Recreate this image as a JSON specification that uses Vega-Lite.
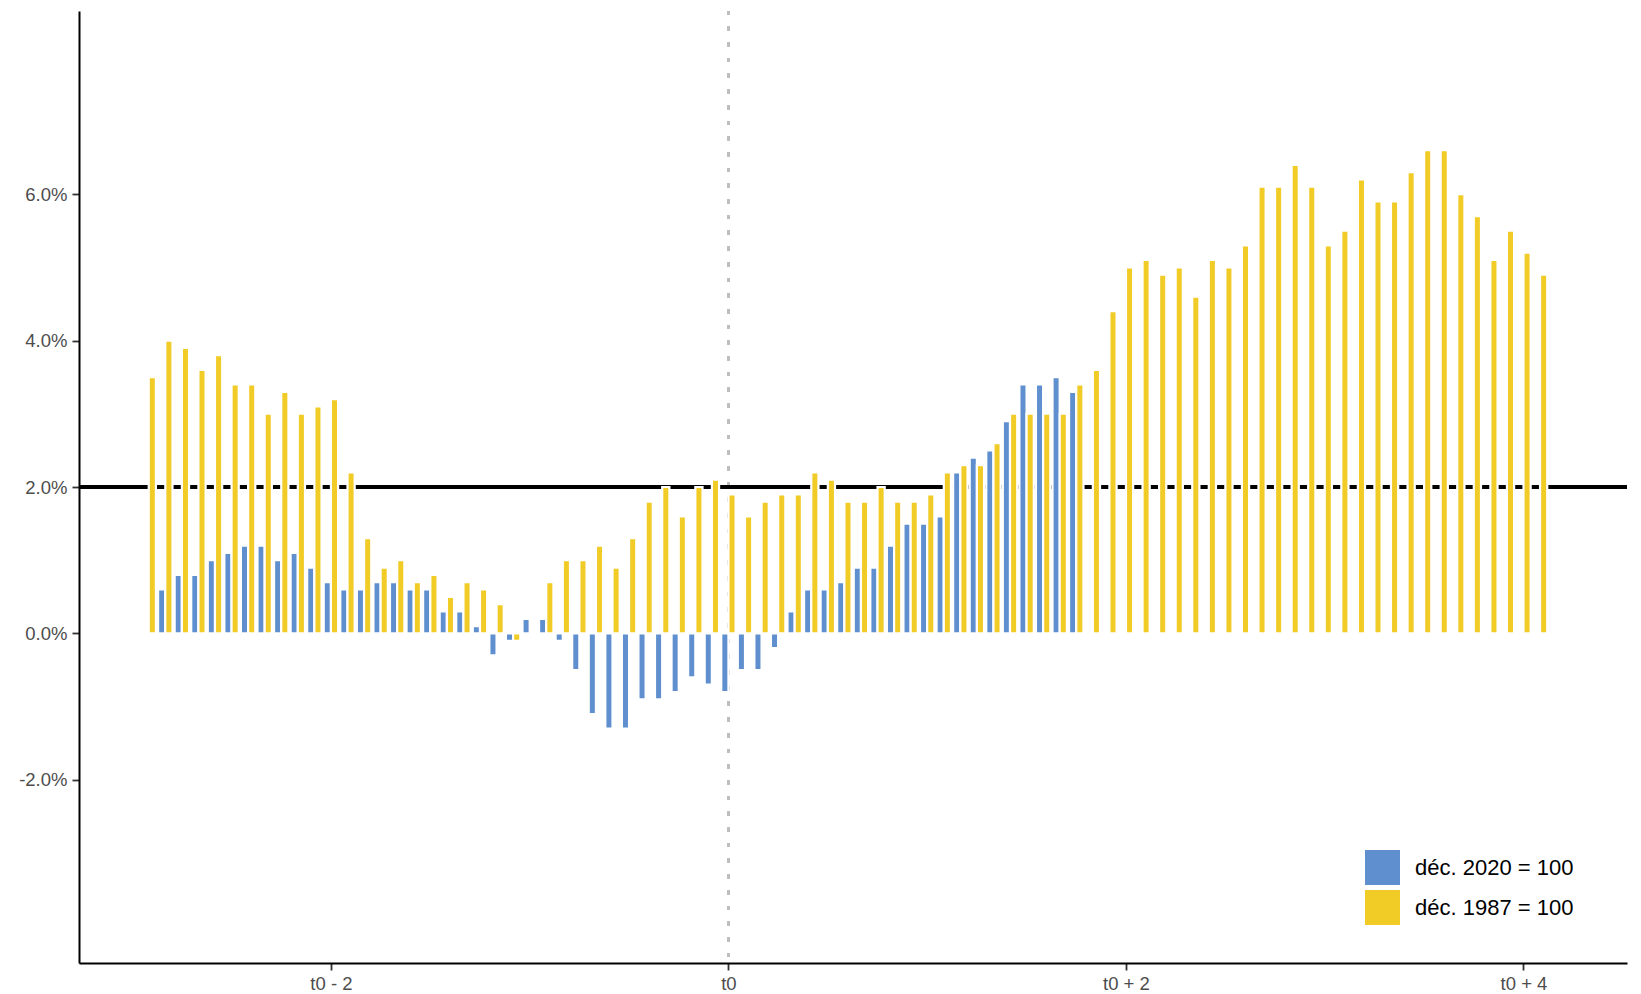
{
  "$schema": "https://vega.github.io/schema/vega-lite/v6.json",
  "autosize": {"type": "none"},
  "padding": {"left": 79, "top": 11, "right": 14, "bottom": 31},
  "width": 1548,
  "height": 952,
  "background": "white",
  "config": {
    "view": {"stroke": null},
    "font": "Liberation Sans",
    "axis": {
      "domainColor": "black",
      "domainWidth": 2,
      "tickColor": "#333333",
      "tickWidth": 1.8,
      "tickSize": 7,
      "labelColor": "#4D4D4D",
      "labelFont": "Liberation Sans",
      "labelFontSize": 18.5,
      "grid": false,
      "title": null
    }
  },
  "datasets": {
    "bars": [
      {"m": -35, "s": "1987", "v": 3.5},
      {"m": -34, "s": "2020", "v": 0.6}, {"m": -34, "s": "1987", "v": 4.0},
      {"m": -33, "s": "2020", "v": 0.8}, {"m": -33, "s": "1987", "v": 3.9},
      {"m": -32, "s": "2020", "v": 0.8}, {"m": -32, "s": "1987", "v": 3.6},
      {"m": -31, "s": "2020", "v": 1.0}, {"m": -31, "s": "1987", "v": 3.8},
      {"m": -30, "s": "2020", "v": 1.1}, {"m": -30, "s": "1987", "v": 3.4},
      {"m": -29, "s": "2020", "v": 1.2}, {"m": -29, "s": "1987", "v": 3.4},
      {"m": -28, "s": "2020", "v": 1.2}, {"m": -28, "s": "1987", "v": 3.0},
      {"m": -27, "s": "2020", "v": 1.0}, {"m": -27, "s": "1987", "v": 3.3},
      {"m": -26, "s": "2020", "v": 1.1}, {"m": -26, "s": "1987", "v": 3.0},
      {"m": -25, "s": "2020", "v": 0.9}, {"m": -25, "s": "1987", "v": 3.1},
      {"m": -24, "s": "2020", "v": 0.7}, {"m": -24, "s": "1987", "v": 3.2},
      {"m": -23, "s": "2020", "v": 0.6}, {"m": -23, "s": "1987", "v": 2.2},
      {"m": -22, "s": "2020", "v": 0.6}, {"m": -22, "s": "1987", "v": 1.3},
      {"m": -21, "s": "2020", "v": 0.7}, {"m": -21, "s": "1987", "v": 0.9},
      {"m": -20, "s": "2020", "v": 0.7}, {"m": -20, "s": "1987", "v": 1.0},
      {"m": -19, "s": "2020", "v": 0.6}, {"m": -19, "s": "1987", "v": 0.7},
      {"m": -18, "s": "2020", "v": 0.6}, {"m": -18, "s": "1987", "v": 0.8},
      {"m": -17, "s": "2020", "v": 0.3}, {"m": -17, "s": "1987", "v": 0.5},
      {"m": -16, "s": "2020", "v": 0.3}, {"m": -16, "s": "1987", "v": 0.7},
      {"m": -15, "s": "2020", "v": 0.1}, {"m": -15, "s": "1987", "v": 0.6},
      {"m": -14, "s": "2020", "v": -0.3}, {"m": -14, "s": "1987", "v": 0.4},
      {"m": -13, "s": "2020", "v": -0.1}, {"m": -13, "s": "1987", "v": -0.1},
      {"m": -12, "s": "2020", "v": 0.2},
      {"m": -11, "s": "2020", "v": 0.2}, {"m": -11, "s": "1987", "v": 0.7},
      {"m": -10, "s": "2020", "v": -0.1}, {"m": -10, "s": "1987", "v": 1.0},
      {"m": -9, "s": "2020", "v": -0.5}, {"m": -9, "s": "1987", "v": 1.0},
      {"m": -8, "s": "2020", "v": -1.1}, {"m": -8, "s": "1987", "v": 1.2},
      {"m": -7, "s": "2020", "v": -1.3}, {"m": -7, "s": "1987", "v": 0.9},
      {"m": -6, "s": "2020", "v": -1.3}, {"m": -6, "s": "1987", "v": 1.3},
      {"m": -5, "s": "2020", "v": -0.9}, {"m": -5, "s": "1987", "v": 1.8},
      {"m": -4, "s": "2020", "v": -0.9}, {"m": -4, "s": "1987", "v": 2.0},
      {"m": -3, "s": "2020", "v": -0.8}, {"m": -3, "s": "1987", "v": 1.6},
      {"m": -2, "s": "2020", "v": -0.6}, {"m": -2, "s": "1987", "v": 2.0},
      {"m": -1, "s": "2020", "v": -0.7}, {"m": -1, "s": "1987", "v": 2.1},
      {"m": 0, "s": "2020", "v": -0.8}, {"m": 0, "s": "1987", "v": 1.9},
      {"m": 1, "s": "2020", "v": -0.5}, {"m": 1, "s": "1987", "v": 1.6},
      {"m": 2, "s": "2020", "v": -0.5}, {"m": 2, "s": "1987", "v": 1.8},
      {"m": 3, "s": "2020", "v": -0.2}, {"m": 3, "s": "1987", "v": 1.9},
      {"m": 4, "s": "2020", "v": 0.3}, {"m": 4, "s": "1987", "v": 1.9},
      {"m": 5, "s": "2020", "v": 0.6}, {"m": 5, "s": "1987", "v": 2.2},
      {"m": 6, "s": "2020", "v": 0.6}, {"m": 6, "s": "1987", "v": 2.1},
      {"m": 7, "s": "2020", "v": 0.7}, {"m": 7, "s": "1987", "v": 1.8},
      {"m": 8, "s": "2020", "v": 0.9}, {"m": 8, "s": "1987", "v": 1.8},
      {"m": 9, "s": "2020", "v": 0.9}, {"m": 9, "s": "1987", "v": 2.0},
      {"m": 10, "s": "2020", "v": 1.2}, {"m": 10, "s": "1987", "v": 1.8},
      {"m": 11, "s": "2020", "v": 1.5}, {"m": 11, "s": "1987", "v": 1.8},
      {"m": 12, "s": "2020", "v": 1.5}, {"m": 12, "s": "1987", "v": 1.9},
      {"m": 13, "s": "2020", "v": 1.6}, {"m": 13, "s": "1987", "v": 2.2},
      {"m": 14, "s": "2020", "v": 2.2}, {"m": 14, "s": "1987", "v": 2.3},
      {"m": 15, "s": "2020", "v": 2.4}, {"m": 15, "s": "1987", "v": 2.3},
      {"m": 16, "s": "2020", "v": 2.5}, {"m": 16, "s": "1987", "v": 2.6},
      {"m": 17, "s": "2020", "v": 2.9}, {"m": 17, "s": "1987", "v": 3.0},
      {"m": 18, "s": "2020", "v": 3.4}, {"m": 18, "s": "1987", "v": 3.0},
      {"m": 19, "s": "2020", "v": 3.4}, {"m": 19, "s": "1987", "v": 3.0},
      {"m": 20, "s": "2020", "v": 3.5}, {"m": 20, "s": "1987", "v": 3.0},
      {"m": 21, "s": "2020", "v": 3.3}, {"m": 21, "s": "1987", "v": 3.4},
      {"m": 22, "s": "1987", "v": 3.6},
      {"m": 23, "s": "1987", "v": 4.4},
      {"m": 24, "s": "1987", "v": 5.0},
      {"m": 25, "s": "1987", "v": 5.1},
      {"m": 26, "s": "1987", "v": 4.9},
      {"m": 27, "s": "1987", "v": 5.0},
      {"m": 28, "s": "1987", "v": 4.6},
      {"m": 29, "s": "1987", "v": 5.1},
      {"m": 30, "s": "1987", "v": 5.0},
      {"m": 31, "s": "1987", "v": 5.3},
      {"m": 32, "s": "1987", "v": 6.1},
      {"m": 33, "s": "1987", "v": 6.1},
      {"m": 34, "s": "1987", "v": 6.4},
      {"m": 35, "s": "1987", "v": 6.1},
      {"m": 36, "s": "1987", "v": 5.3},
      {"m": 37, "s": "1987", "v": 5.5},
      {"m": 38, "s": "1987", "v": 6.2},
      {"m": 39, "s": "1987", "v": 5.9},
      {"m": 40, "s": "1987", "v": 5.9},
      {"m": 41, "s": "1987", "v": 6.3},
      {"m": 42, "s": "1987", "v": 6.6},
      {"m": 43, "s": "1987", "v": 6.6},
      {"m": 44, "s": "1987", "v": 6.0},
      {"m": 45, "s": "1987", "v": 5.7},
      {"m": 46, "s": "1987", "v": 5.1},
      {"m": 47, "s": "1987", "v": 5.5},
      {"m": 48, "s": "1987", "v": 5.2},
      {"m": 49, "s": "1987", "v": 4.9}
    ]
  },
  "data": {"name": "bars"},
  "layer": [
    {
      "mark": {"type": "rule", "color": "#BEBEBE", "strokeWidth": 2.5, "strokeDash": [4, 11.7]},
      "encoding": {
        "x": {"datum": 0, "type": "quantitative"}
      }
    },
    {
      "mark": {"type": "rule", "color": "black", "strokeWidth": 2.3},
      "encoding": {
        "y": {"datum": 2, "type": "quantitative"}
      }
    },
    {
      "transform": [{"filter": "datum.s == '2020'"}],
      "mark": {"type": "bar", "size": 7.2, "xOffset": -3.6, "stroke": "white", "strokeWidth": 2.2},
      "encoding": {
        "x": {"field": "m", "type": "quantitative"},
        "y": {"field": "v", "type": "quantitative"},
        "color": {"field": "s", "type": "nominal"}
      }
    },
    {
      "transform": [{"filter": "datum.s == '1987'"}],
      "mark": {"type": "bar", "size": 7.2, "xOffset": 3.6, "stroke": "white", "strokeWidth": 2.2},
      "encoding": {
        "x": {"field": "m", "type": "quantitative"},
        "y": {"field": "v", "type": "quantitative"},
        "color": {"field": "s", "type": "nominal"}
      }
    }
  ],
  "encoding": {
    "x": {
      "type": "quantitative",
      "scale": {"domain": [-39.21, 54.25], "nice": false, "zero": false, "padding": 0},
      "axis": {
        "values": [-24, 0, 24, 48],
        "labelExpr": "datum.value == 0 ? 't0' : (datum.value < 0 ? 't0 - ' + (-datum.value / 12) : 't0 + ' + (datum.value / 12))",
        "labelPadding": 4
      }
    },
    "y": {
      "type": "quantitative",
      "scale": {"domain": [-4.5, 8.5], "nice": false, "zero": false},
      "axis": {
        "values": [-2, 0, 2, 4, 6],
        "labelExpr": "(datum.value < 0 ? '-' : '') + format(abs(datum.value), '.1f') + '%'",
        "labelPadding": 5
      }
    },
    "color": {
      "type": "nominal",
      "scale": {"domain": ["2020", "1987"], "range": ["#5F8FCE", "#F1CB26"]},
      "legend": {
        "title": null,
        "orient": "none",
        "legendX": 1286,
        "legendY": 839,
        "symbolType": "square",
        "symbolSize": 1225,
        "symbolStrokeWidth": 0,
        "symbolOpacity": 1,
        "labelFontSize": 22,
        "labelColor": "black",
        "labelFont": "Liberation Sans",
        "labelOffset": 15,
        "rowPadding": 5,
        "labelLimit": 400,
        "padding": 0,
        "labelExpr": "'déc. ' + datum.label + ' = 100'"
      }
    }
  }
}
